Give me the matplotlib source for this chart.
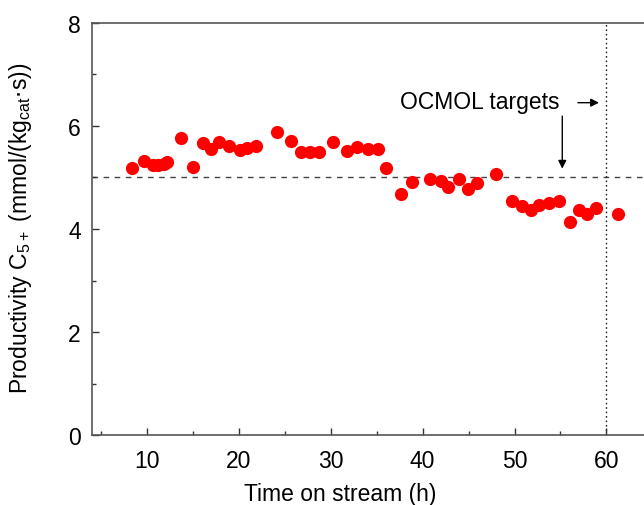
import matplotlib
matplotlib.use("Agg")
import matplotlib.pyplot as plt
from matplotlib.ticker import MultipleLocator

# Productivity of C5+ versus time on stream
time_h = [8.3, 9.6, 10.6, 11.2, 11.8, 12.2, 13.7, 15.0, 16.1, 16.9, 17.8, 18.9,
          20.1, 20.9, 21.9, 24.1, 25.7, 26.8, 27.7, 28.7, 30.2, 31.8, 32.8, 34.0,
          35.1, 36.0, 37.6, 38.8, 40.8, 42.0, 42.8, 43.9, 44.9, 45.9, 48.0, 49.7,
          50.8, 51.8, 52.7, 53.8, 54.8, 56.0, 57.0, 57.9, 58.9, 61.3]
productivity = [5.19, 5.31, 5.25, 5.24, 5.26, 5.29, 5.76, 5.21, 5.66, 5.56, 5.69, 5.60,
                5.54, 5.58, 5.60, 5.88, 5.71, 5.50, 5.49, 5.49, 5.68, 5.52, 5.59, 5.55,
                5.55, 5.19, 4.68, 4.92, 4.96, 4.94, 4.82, 4.96, 4.77, 4.90, 5.06, 4.54,
                4.44, 4.37, 4.47, 4.51, 4.55, 4.14, 4.36, 4.30, 4.40, 4.30]

target_productivity = 5.0
target_time = 60

plt.rcParams['font.family'] = ['Liberation Sans', 'DejaVu Sans']
FS = 16.5

fig = plt.figure(figsize=(6.44, 5.06), dpi=100)
ax = fig.add_axes([0.143, 0.138, 0.857, 0.815])

ax.plot(time_h, productivity, 'o', color='#ff0000', markersize=9.5,
        markeredgewidth=0, zorder=3)

ax.axhline(target_productivity, color='#444444', linestyle=(0, (4, 4)),
           linewidth=1.0, zorder=1)
ax.axvline(target_time, color='#222222', linestyle=(0, (1.2, 2)),
           linewidth=1.0, zorder=1)

ax.text(37.5, 6.47, 'OCMOL targets', fontsize=FS, va='center', ha='left')
ax.annotate('', xy=(59.2, 6.45), xytext=(56.9, 6.45),
            arrowprops=dict(arrowstyle='-|>', color='black', lw=1.0,
                            mutation_scale=12, shrinkA=0, shrinkB=0))
ax.annotate('', xy=(55.2, 5.17), xytext=(55.2, 6.19),
            arrowprops=dict(arrowstyle='-|>', color='black', lw=1.0,
                            mutation_scale=12, shrinkA=0, shrinkB=0))

ax.set_xlim(4, 64.1)
ax.set_ylim(0, 8)
ax.xaxis.set_major_locator(MultipleLocator(10))
ax.xaxis.set_minor_locator(MultipleLocator(5))
ax.yaxis.set_major_locator(MultipleLocator(2))
ax.yaxis.set_minor_locator(MultipleLocator(1))

ax.tick_params(which='both', direction='in', colors='#333333', labelcolor='black',
               labelsize=FS, width=1.0, top=False, right=False)
ax.tick_params(which='major', length=5)
ax.tick_params(which='minor', length=3)
ax.tick_params(axis='x', which='major', pad=10)
ax.tick_params(axis='y', which='major', pad=8)

for side in ('left', 'bottom', 'top'):
    ax.spines[side].set_color('#555555')
    ax.spines[side].set_linewidth(1.2)
ax.spines['right'].set_visible(False)

ax.set_xlabel('Time on stream (h)', fontsize=FS)
ax.set_ylabel(r'Productivity C$_{\mathregular{5+}}$ (mmol/(kg$_{\mathregular{cat}}$$\cdot$s))',
              fontsize=FS)
ax.xaxis.set_label_coords(0.449, -0.114)
ax.yaxis.set_label_coords(-0.105, 0.505)

fig.savefig('out.png', dpi=100)
